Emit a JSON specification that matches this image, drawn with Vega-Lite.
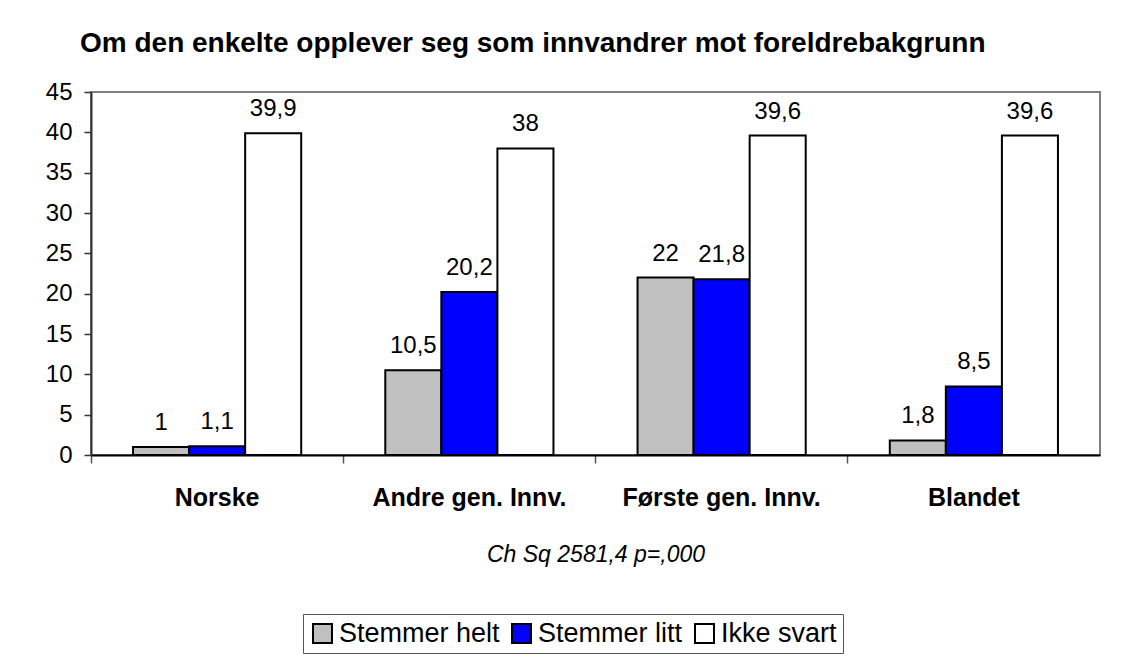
{
  "$schema": "https://vega.github.io/schema/vega-lite/v6.json",
  "autosize": {"type": "none"},
  "padding": {"left": 91, "top": 92, "right": 29, "bottom": 211},
  "width": 1009,
  "height": 363,
  "background": "white",
  "config": {
    "font": "Liberation Sans",
    "view": {"stroke": "#808080", "strokeWidth": 2},
    "locale": {"number": {"decimal": ",", "thousands": " ", "grouping": [3], "currency": ["", " kr"]}}
  },
  "title": {
    "text": "Om den enkelte opplever seg som innvandrer mot foreldrebakgrunn",
    "anchor": "start",
    "frame": "group",
    "dx": -11,
    "offset": 22,
    "fontSize": 28,
    "fontWeight": "bold",
    "color": "black"
  },
  "data": {
    "values": [
      {"gruppe": "Norske", "svar": "Stemmer helt", "prosent": 1},
      {"gruppe": "Norske", "svar": "Stemmer litt", "prosent": 1.1},
      {"gruppe": "Norske", "svar": "Ikke svart", "prosent": 39.9},
      {"gruppe": "Andre gen. Innv.", "svar": "Stemmer helt", "prosent": 10.5},
      {"gruppe": "Andre gen. Innv.", "svar": "Stemmer litt", "prosent": 20.2},
      {"gruppe": "Andre gen. Innv.", "svar": "Ikke svart", "prosent": 38},
      {"gruppe": "Første gen. Innv.", "svar": "Stemmer helt", "prosent": 22},
      {"gruppe": "Første gen. Innv.", "svar": "Stemmer litt", "prosent": 21.8},
      {"gruppe": "Første gen. Innv.", "svar": "Ikke svart", "prosent": 39.6},
      {"gruppe": "Blandet", "svar": "Stemmer helt", "prosent": 1.8},
      {"gruppe": "Blandet", "svar": "Stemmer litt", "prosent": 8.5},
      {"gruppe": "Blandet", "svar": "Ikke svart", "prosent": 39.6}
    ]
  },
  "encoding": {
    "x": {
      "field": "gruppe", "type": "nominal", "sort": null,
      "scale": {"paddingInner": 0, "paddingOuter": 0},
      "axis": {
        "title": "Ch Sq 2581,4 p=,000",
        "titleFontStyle": "italic",
        "titleFontWeight": "normal",
        "titleFontSize": 23,
        "titleColor": "black",
        "titlePadding": 33,
        "labelAngle": 0,
        "labelFontSize": 25,
        "labelFontWeight": "bold",
        "labelColor": "black",
        "labelPadding": 22,
        "labelLimit": 400,
        "bandPosition": 0,
        "domainColor": "black",
        "domainWidth": 2,
        "tickColor": "#555",
        "tickWidth": 1.5,
        "tickSize": 8,
        "grid": false
      }
    },
    "xOffset": {
      "field": "svar", "type": "nominal",
      "sort": ["Stemmer helt", "Stemmer litt", "Ikke svart"],
      "scale": {"paddingInner": 0, "paddingOuter": 0.75}
    },
    "y": {
      "field": "prosent", "type": "quantitative",
      "scale": {"domain": [0, 45], "nice": false},
      "axis": {
        "title": null,
        "values": [0, 5, 10, 15, 20, 25, 30, 35, 40, 45],
        "labelFontSize": 24,
        "labelColor": "black",
        "labelPadding": 12,
        "domainColor": "#333",
        "domainWidth": 2,
        "tickColor": "#333",
        "tickWidth": 1.5,
        "tickSize": 7,
        "grid": false
      }
    }
  },
  "layer": [
    {
      "mark": {"type": "bar", "stroke": "black", "strokeWidth": 2},
      "encoding": {
        "color": {
          "field": "svar", "type": "nominal",
          "sort": ["Stemmer helt", "Stemmer litt", "Ikke svart"],
          "scale": {"domain": ["Stemmer helt", "Stemmer litt", "Ikke svart"], "range": ["#C0C0C0", "#0000FF", "#FFFFFF"]},
          "legend": {
            "title": null,
            "orient": "none",
            "direction": "horizontal",
            "legendX": 212,
            "legendY": 522,
            "symbolType": "square",
            "symbolSize": 360,
            "symbolStrokeColor": "black",
            "symbolStrokeWidth": 2,
            "symbolOpacity": 1,
            "labelFontSize": 27,
            "labelColor": "black",
            "labelOffset": 3,
            "columnPadding": 8,
            "strokeColor": "#555",
            "padding": 6,
            "labelLimit": 300
          }
        }
      }
    },
    {
      "mark": {"type": "text", "baseline": "bottom", "dy": -12, "fontSize": 24, "color": "black"},
      "encoding": {
        "text": {"field": "prosent", "type": "quantitative", "format": ".1~f"}
      }
    }
  ]
}
